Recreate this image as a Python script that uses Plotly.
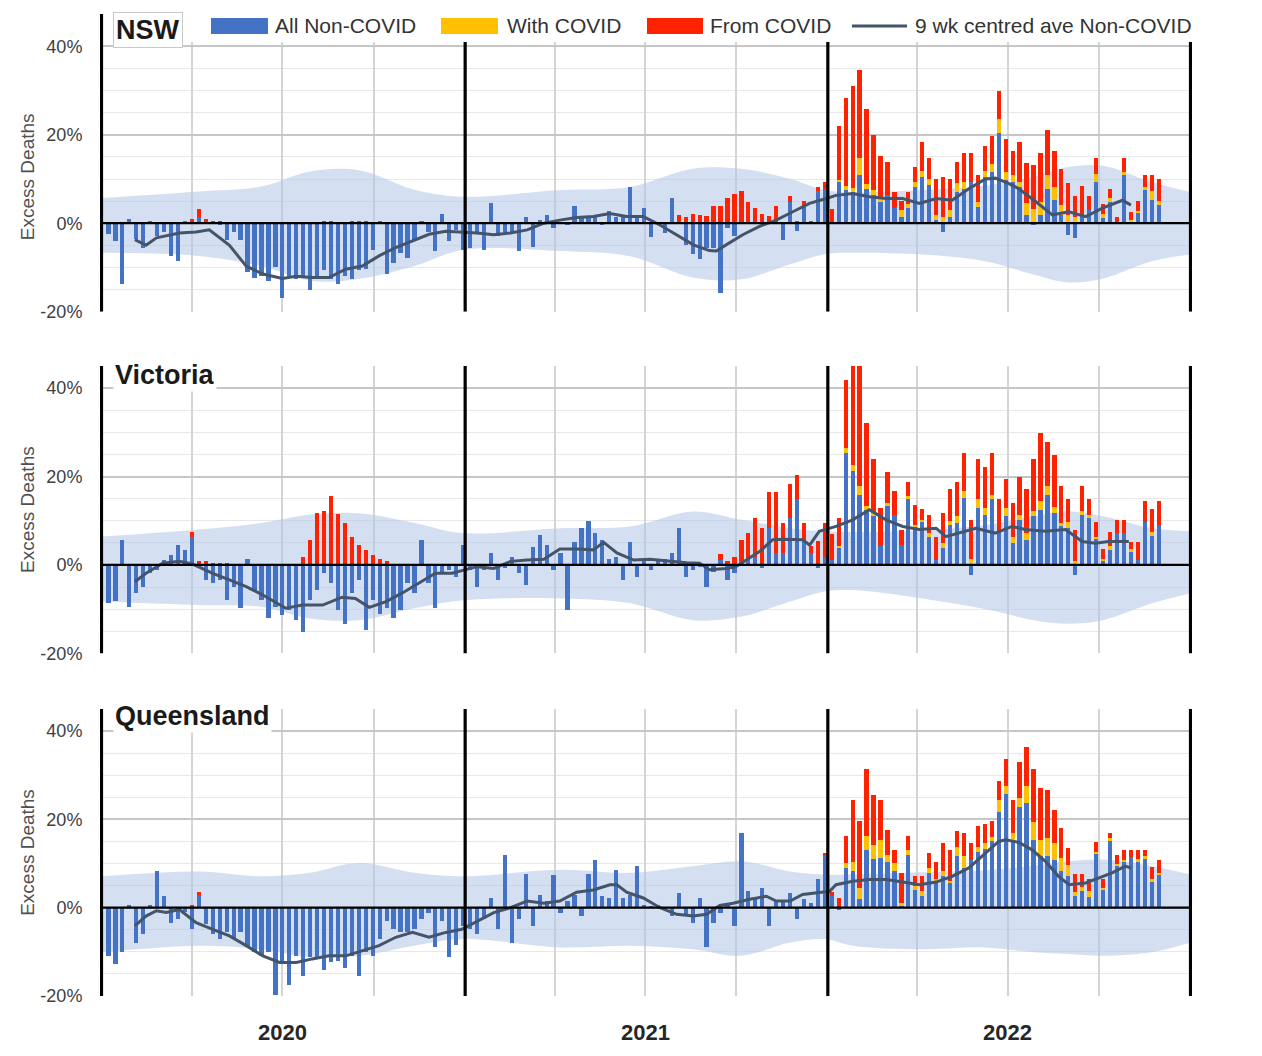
import plotly.graph_objects as go

# ---------------- DATA (percent excess deaths, weekly) ----------------
N_WEEKS = 152
week_idx = list(range(N_WEEKS))
yellow_start = 104  # "With COVID" only reported from 2022

# ---- NSW ----
nsw_nonc = ([-2.5, -4, -13.8, 1, -3.5, -5.5, 0.5, -3, -2, -7.4, -8.5, 0.5, 0, 1.5, 0, 0, -0.5, -3.7, -2, -3.7,
             -11, -12.5, -12, -13, -10, -17, -12, -12.6, -12, -15, -12.6, -10.5, -12.6, -13.8, -12, -12.6, -10.5,
             -10.4, -6, 0.4, -11.5, -9, -6.7, -7.8, -3.7, 0.4, -2, -6.3, 2, -4, -1.5, -6]
            + [-5.5, -2, -6, 4.5, -3, -2, -2.2, -6.3, 1.3, -5.4, 0.7, 1.9, -1.1, 0, -0.5, 4, 1.5, 1.5, 1.5, -0.5,
               2.8, 1.5, 1.5, 8.2, 1.5, 3.4, -3.2, 0, -2.2, 5.6, 0, -4.9, -7, -8.2, -5.6, -5.6, -15.7, -1.1, -3,
               0, 0, 0, 0, 0, 0, -3.9, 4.7, -1.7, 4, 0, 7.2, 7.8]
            + [0, 9.3, 7.5, 7, 10.8, 7.8, 6.3, 4.9, 6.3, 3.4, 1.5, 3.4, 8.2, 10.4, 8.6, 0.7, -1.9, 1.5, 7.1, 7.8,
               9.3, 3.7, 10.4, 11.6, 20.5, 9.7, 9.3, 8.2, 1.9, -0.5, 1.9, 7.8, 5.2, 1.9, -2.6, -3.4, 1.9, 3, 9.3,
               1.1, 4.9, 0, 11, 0.2, 2.4, 7.5, 5.2, 4.1])
nsw_with = [0, 0.5, 1, 1, 4, 1.1, 1.2, 1.1, 0, 0, 1.5, 1, 1.1, 1.5, 1.3, 1.1, 1.5, 1.5, 1.9, 1.5, 0, 1.1, 1.5,
            1.9, 3, 1.9, 1.5, 1.1, 2.6, 3.3, 3, 3, 3, 2.2, 1.9, 1.5, 0, 0, 1.9, 1.1, 0.8, 0, 0.6, 0.6, 0.4, 0.8,
            2, 1]
nsw_from = ([0, 0, 0, 0, 0, 0, 0, 0, 0, 0, 0, 0, 1.0, 1.7, 1.0, 0.5, 0.5, 0, 0, 0, 0, 0, 0, 0, 0, 0, 0, 0, 0, 0,
             0.3, 0.5, 0.5, 0, 0, 0.5, 0.5, 0.5, 0, 0, 0, 0, 0, 0, 0, 0, 0, 0, 0, 0, 0, 0]
            + [0, 0, 0, 0, 0, 0, 0, 0, 0, 0, 0, 0, 0, 0, 0, 0, 0, 0, 0, 0, 0, 0, 0, 0, 0, 0, 0, 0, 0, 0,
               1.9, 1.3, 2.2, 1.9, 1.7, 4, 4, 5.6, 6.6, 7.2, 4.9, 3.5, 2.2, 1.7, 4, 0, 1.5, 0.5, 1.1, 0.5, 1, 1.5]
            + [3.3, 12.2, 19.9, 23, 19.9, 17, 12.5, 9.3, 7.5, 3.6, 2, 2.6, 3.4, 6.5, 4.8, 8.1, 8.9, 7, 4.8, 6.6,
               6.6, 6.2, 5.6, 6.3, 6.4, 7.4, 5.6, 9.1, 9.1, 9.8, 11, 10.3, 8.2, 8.1, 7.1, 4.7, 6.5, 3.2, 3.6, 2.2,
               2.1, 1.3, 3.2, 1.7, 2.3, 2.7, 3.8, 4.8])
nsw_ma_wk = [3.8, 5.4, 6.9, 10.2, 12.6, 14.5, 17.4, 19.8, 22.2, 25, 27, 29.3, 31.7, 34.1, 36.5, 38.9, 41.3, 43.7,
             46.1, 48.5, 50.8, 53, 55.4, 57.8, 60.2, 62.6, 64.9, 67.3, 69.7, 72.1, 74.5, 76.9, 79.3, 81.7, 84.1,
             86.4, 87.4, 88.8, 91.2, 93.6, 96, 98.4, 100.8, 103.2, 104.6, 107, 109.4, 111.8, 114.2, 116.6, 119,
             121.3, 123.7, 126.1, 127.5, 129.4, 130.9, 133.3, 135.7, 138.1, 140.5, 142.9, 145.8, 147]
nsw_ma = [-3.7, -5, -3.3, -2.2, -2, -1.5, -5, -9.7, -11.5, -12.5, -12, -12.3, -12.3, -10.4, -9.7, -7.4, -5.5, -4,
          -2.5, -1.8, -2, -2.2, -2.6, -2.2, -1.5, 0, 0.7, 1.3, 1.5, 2.2, 1.5, 1.5, -0.4, -2.6, -4.9, -6.2, -6.3,
          -4.9, -2.6, -0.7, 0.7, 2.6, 4.5, 5.6, 6.3, 6.7, 6, 5.6, 5.6, 4.5, 5.6, 5.2, 7.8, 10, 10.2, 9, 7.8, 4.9,
          1.9, 2.6, 1.5, 3.4, 5.2, 4.1]

# ---- Victoria ----
vic_nonc = ([-8.7, -8.1, 5.7, -9.5, -6.4, -4.9, -1.9, -1.1, 1.1, 2.3, 4.5, 3.4, 6.4, 0, -3.4, -4.2, -3.4, -8, -4.9,
             -9.8, 1.3, -5.7, -8, -12.1, -9.5, -11.4, -10.2, -12.5, -15.2, -8, -5.7, -1.9, -4.2, -10.2, -13.3, -6.4,
             -3.4, -14.8, -8, -11, -9.8, -12.1, -10.2, -4.2, -6.4, 5.7, -4.2, -9.8, -1.5, -1.1, -2.7, 4.5]
            + [-1.1, -4.9, -1.1, 2.8, -3.4, -0.8, 1.9, -1.9, -4.5, 4, 6.8, 4.5, -1.1, 2.8, -10.2, 5.1, 8.3, 10, 7.2,
               5.7, 1.3, 1.9, -3.4, 5.1, -2.8, 1.3, -1.1, 1.3, 1.3, 2.8, 8.3, -2.8, -1.1, -0.4, -4.9, -1.5, 1.1,
               -3.4, -1.9, 0.8, 1.1, 1.9, -0.8, 8.3, 2.7, 2.7, 10.6, 14.9, 5.7, 2.7, -0.8, 1.9]
            + [1.1, 3.8, 25.4, 21.2, 15.9, 12.5, 11, 4.2, 13.3, 11.4, 4.5, 14.9, 8.7, 9.8, 6.4, 1.1, 3.8, 9.1, 9.5,
               15.2, -2.3, 12.9, 11.4, 14.8, 7.2, 11, 4.9, 10.2, 5.7, 11, 12.5, 15.9, 11.7, 8.7, 8.3, -2.3, 11.4,
               10.6, 5.8, 0.8, 3.4, 7.2, 7.2, 3, 1.1, 9.8, 6.6, 9.1])
vic_with = [0, 0.5, 1.1, 1.5, 1.9, 0.8, 0.8, 0, 0.8, 0, 0, 0.8, 0.4, 0.4, 0.8, 0, 1.1, 0.8, 1.5, 1.5, 1.3, 1.9,
            1.5, 1.1, 0, 1.9, 1.5, 1, 1.5, 1.1, 1.9, 1.9, 1.5, 0.8, 1.3, 0.8, 0.8, 0.8, 0.6, 0.5, 0.8, 0, 0, 0.5,
            0, 0, 0.8, 0]
vic_from = ([0, 0, 0, 0, 0, 0, 0, 0, 0, 0, 0, 0, 1.0, 0.8, 0.8, 0.5, 0.5, 0.4, 0, 0, 0, 0, 0, 0, 0, 0, 0, 0,
             1.9, 5.7, 11.7, 12.3, 15.5, 11.6, 9.5, 6.3, 4.5, 3.4, 2.3, 1.3, 0.8, 0, 0, 0, 0, 0, 0, 0, 0, 0, 0, 0]
            + [0, 0, 0, 0, 0, 0, 0, 0, 0, 0, 0, 0, 0, 0, 0, 0, 0, 0, 0, 0, 0, 0, 0, 0, 0, 0, 0, 0, 0, 0, 0, 0, 0,
               0, 0, 0, 1.3, 0.8, 1.9, 4.9, 6.2, 8.6, 8.3, 8.1, 13.7, 6.8, 7.7, 5.5, 3.8, 1.5, 5.3, 7.6]
            + [6, 6.3, 15.4, 23, 28, 18.7, 12.1, 8.7, 7, 5.3, 3.5, 3.1, 4.4, 2.5, 4, 5.3, 6.8, 7.3, 7.8, 8.7, 8.8,
               9.1, 9.2, 9.5, 7.7, 6.6, 7.5, 8.7, 10, 11.8, 15.4, 9.9, 11.6, 8.3, 5.3, 7.2, 5.6, 3.5, 3.2, 2.3,
               3.2, 2.9, 2.9, 1.6, 4, 4.6, 5.3, 5.3])
vic_ma_wk = [3.8, 5.4, 7.8, 10.2, 12.1, 15, 17.4, 19.8, 22.2, 25.5, 27.9, 30.8, 33.6, 35.5, 37.5, 39.9, 42.2, 44.6,
             47, 49.4, 51.3, 53, 55.4, 57.8, 60.2, 62.6, 64.9, 67.3, 69.7, 71.2, 73.1, 75.5, 77.9, 80.7, 83.1, 85,
             86.4, 88.8, 90.2, 91.7, 93.6, 95.5, 97.4, 99.8, 100.8, 102.2, 103.7, 104.6, 107, 109.4, 111.8, 114.2,
             116.6, 119, 120.4, 122.3, 124.7, 127.5, 129.9, 131.8, 134.7, 137.6, 140, 141.9, 143.8, 146.7]
vic_ma = [-3.8, -1.9, 0.4, 0.8, 0.2, -1.9, -3.4, -4.9, -6.8, -9.8, -9.1, -9.1, -7.3, -7.6, -9.6, -8.3, -6.4, -4.2,
          -1.9, -1.9, -1.1, -0.4, -0.8, 0.8, 1.1, 1.3, 3.6, 3.6, 3.4, 5.1, 2.7, 1.1, 1.3, 0.9, 0.5, 0.4, -1.1, -0.8,
          -0.4, 1.1, 3, 5.7, 5.8, 5.7, 4.5, 7.6, 8.3, 8.7, 10.2, 12.5, 10.2, 8.7, 8, 8.3, 6.4, 7.2, 8.3, 7.2, 8.7,
          8, 7.6, 8, 5.3, 4.9, 5.3, 5.3]

# ---- Queensland ----
qld_nonc = ([-10.9, -12.7, -10.1, 0.6, -7.9, -6, 0.6, 8.2, 2.7, -3.4, -2.6, -1, -4.9, 2.8, -3.7, -6, -7.1, -5.6,
             -7.1, -5.6, -8.6, -10.1, -10.9, -10.1, -19.8, -12.4, -17.4, -10.9, -15.4, -11.2, -11.6, -14.2, -12.4,
             -12, -13.7, -10.9, -15.4, -10.1, -11, -7, -3, -4.9, -5.6, -5.6, -4.9, -2.6, -1.1, -9, -3, -11.1, -8.5,
             -4.1]
            + [-4.9, -6, -2.6, 2.2, -4.9, 12, -7.9, -2.5, 7.7, -4.1, 2.8, 1.5, 7.3, -1.1, 1.5, 2.8, -1.9, 7.7, 10.9,
               2.6, 2.2, 8.6, 2.2, 2.8, 9.4, 0.7, 0.3, 0.5, -0.5, -1.9, 3.4, -1.9, -3.5, 2.2, -9, -3.5, -1.1, 0.5,
               -4.1, 16.9, 3.7, 2.2, 4.5, -4.1, 1.5, 1.5, 3.4, -2.5, 1.9, 1.1, 6.5, 12]
            + [2.6, -0.5, 9, 8.2, 1.9, 13.1, 11, 11.2, 10.3, 8.2, 0.4, 12, 4.1, 2.6, 7.9, 5.6, 7.1, 5.6, 11.6, 9,
               10.9, 12.7, 13.3, 15, 21.7, 25.8, 15.4, 22.8, 23.6, 15.4, 11.6, 11.6, 10.9, 8.2, 7.1, 2.6, 3.7, 2.5,
               12.2, 4.1, 15, 9.4, 10.3, 11.5, 10.3, 11, 6, 7.3])
qld_with = [0, 0, 1.1, 2.2, 2.6, 3.1, 3.2, 4.1, 1.7, 1.9, 0.7, 1.1, 0.8, 1.1, 1.1, 0.8, 1.1, 0.5, 2.2, 2.6, 0, 1.1,
            1.3, 1.1, 2.6, 1.7, 1.5, 2.1, 3.9, 4.1, 3.7, 4.1, 3.7, 3, 2.6, 0.9, 1.1, 1.3, 0.5, 0.4, 0.7, 0.6, 0.6,
            0, 0.7, 0.6, 0.4, 0.6]
qld_from = ([0, 0, 0, 0, 0, 0, 0, 0, 0, 0, 0, 0, 0.6, 0.7, 0, 0, 0, 0, 0, 0, 0, 0, 0, 0, 0, 0, 0, 0, 0, 0, 0, 0, 0,
             0, 0, 0, 0, 0, 0, 0, 0, 0, 0, 0, 0, 0, 0, 0, 0, 0, 0, 0]
            + [0, 0, 0, 0, 0, 0, 0, 0, 0, 0, 0, 0, 0, 0, 0, 0, 0, 0, 0, 0, 0, 0, 0, 0, 0, 0, 0, 0, 0, 0, 0, 0, 0,
               0, 0, 0, 0, 0, 0, 0, 0, 0, 0, 0, 0, 0, 0, 0, 0, 0, 0, 0.3]
            + [1.0, 2.2, 6.2, 14.1, 15.2, 15.3, 11.3, 9.2, 5.5, 3, 6.8, 3.2, 2.2, 3.4, 3.5, 3.9, 6.4, 7, 3.6, 5.3,
               3.7, 4.6, 4.4, 3.6, 4.4, 6.1, 7.6, 8.1, 8.8, 12, 11.7, 10.9, 7.6, 6.8, 3.9, 4.2, 2.9, 2.7, 2.1, 2,
               1.2, 2, 2.1, 1.5, 2, 1.4, 2.8, 3])
qld_ma_wk = [3.8, 5.4, 6.9, 8.3, 10.2, 12.6, 15, 17.4, 19.8, 22.2, 24.6, 27, 29.3, 31.7, 34.1, 36.5, 38.9, 41.3,
             43.7, 46.1, 48.5, 50.8, 53, 55.4, 57.8, 60.2, 62.6, 64.9, 67.3, 69.7, 72.1, 73.1, 74.5, 76.9, 79.3,
             81.7, 84.1, 86, 87.9, 89.8, 92.2, 94.6, 96, 98, 99.8, 102.2, 103.7, 104.6, 107, 109.4, 111.8, 114.2,
             116.6, 119, 121.3, 123.7, 126.1, 128, 129, 130.9, 132.8, 134.7, 136.6, 138.1, 140.5, 142.9, 144.3,
             146.2, 147]
qld_ma = [-4.1, -1.9, -0.7, -1.1, -0.4, -3.4, -4.9, -6.4, -8.6, -10.9, -12.4, -12.4, -11.6, -10.9, -10.9, -9.7,
          -8.6, -6.7, -5.6, -6.7, -5.6, -4.9, -3, -1.1, 0, 1.5, 1, 1.5, 3.5, 4, 5.2, 5.2, 3.5, 2.2, 0, -1.5, -1.9,
          -1.5, 0.5, 1, 1.9, 2.6, 1.5, 1.5, 3, 3.5, 3.7, 5.2, 6, 6.4, 6.4, 5.8, 5.2, 5.8, 7.1, 9, 12.4, 15, 15.4,
          14.8, 13.1, 10.5, 7.1, 5.2, 5.6, 7.1, 7.9, 9.4, 9]

# ---- expected range band (week number, upper / lower %) ----
band_wk = [-1, 13, 22, 29, 36, 44, 51, 65, 75, 84, 91, 98, 103, 107, 117, 126, 133, 138, 143, 150, 156]
nsw_up = [5.7, 7.2, 8.3, 11.7, 12, 7.6, 6, 7.5, 8.2, 12.3, 12.3, 10, 7.5, 7, 7.5, 8.5, 10.5, 12.7, 13, 9.3, 7]
nsw_lo = [-6.7, -7.4, -9.7, -13, -12.6, -9.7, -6, -6.3, -7.5, -12.3, -12.7, -9.3, -7, -6.7, -7.1, -8.6, -11.6,
          -13.4, -12.5, -8.6, -7.1]
vic_up = [6.4, 8, 9.5, 11.4, 11.7, 9.5, 7.2, 8.3, 8.7, 12.1, 10.2, 8.3, 7.6, 7.5, 7.8, 9, 11, 12.1, 11, 8.3, 7.6]
vic_lo = [-8.3, -9.1, -9.5, -12.1, -12.5, -9.8, -8, -7.6, -8.7, -12.5, -11.7, -8.3, -6, -5.7, -7.6, -10, -12.5,
          -13.3, -12.5, -8.7, -6.4]
qld_up = [7.1, 8.2, 7.1, 7.9, 10.1, 7.9, 7.1, 8.6, 7.9, 9.4, 10.5, 8.2, 7.5, 7.5, 8, 8.5, 9.5, 10.5, 10.9, 9.4, 7.5]
qld_lo = [-10.1, -8.6, -9.4, -11.2, -10.9, -8.6, -7.1, -9, -8.6, -9.4, -10.9, -7.9, -7.1, -8.6, -9.4, -9, -10.1,
          -10.5, -10.9, -10.1, -7.9]

panel_names = ["NSW", "Victoria", "Queensland"]
year_labels = ["2020", "2021", "2022"]
year_mid_day = [182, 547, 912]
year_edge_day = [0, 366, 731, 1096]
quarter_day = [0, 91, 182, 274, 366, 456, 547, 639, 731, 821, 912, 1004, 1096]
y_tick_vals = [-20, 0, 20, 40]
y_tick_text = ["-20%", "0%", "20%", "40%"]
legend_names = ["All Non-COVID", "With COVID", "From COVID", "9 wk centred ave Non-COVID"]

# ---------------- STYLE / LAYOUT ----------------
BLUE, YELLOW, RED, LINEC = "#4472C4", "#FFC000", "#FF2200", "#44546A"
BAND = "rgba(176,196,230,0.55)"
FONT = "Liberation Sans, Arial, sans-serif"
PAGE_OFF = 8                      # browser body margin
W, H = 1262 - PAGE_OFF, 1056 - PAGE_OFF
# page-pixel geometry of the plot area
P_LEFT, P_RIGHT, P_TOP, P_BOT = 100, 1192, 42, 996
ML = P_LEFT - PAGE_OFF
MR = W - (P_RIGHT - PAGE_OFF)
MT = P_TOP - PAGE_OFF
MB = H - (P_BOT - PAGE_OFF)
PLOT_H = P_BOT - P_TOP
PLOT_W = P_RIGHT - P_LEFT
PX_PER_PCT = 4.42
panel_top_px = [42, 366, 709]
panel_range = [(-20, 41), (-20, 45), (-20, 45)]


def fy(py):
    return 1 - (py - P_TOP) / PLOT_H


def fx(px):
    return (px - P_LEFT) / PLOT_W


def day(w):
    return 7 + 7 * w


bar_x = [day(w) for w in week_idx]
yellow_x = bar_x[yellow_start:]
band_x = [min(max(day(w), 0), 1096) for w in band_wk]

panels = [
    (nsw_nonc, nsw_with, nsw_from, nsw_ma_wk, nsw_ma, nsw_up, nsw_lo),
    (vic_nonc, vic_with, vic_from, vic_ma_wk, vic_ma, vic_up, vic_lo),
    (qld_nonc, qld_with, qld_from, qld_ma_wk, qld_ma, qld_up, qld_lo),
]

fig = go.Figure()
layout = {}
shapes = []
annotations = []
XR = [-1.5, 1097.5]

for p, (nonc, withc, fromc, ma_wk, ma_v, up, lo) in enumerate(panels, start=1):
    xa = "x" if p == 1 else f"x{p}"
    xk = "xaxis" if p == 1 else f"xaxis{p}"
    nb, no = 2 * p - 1, 2 * p
    yb = "y" if nb == 1 else f"y{nb}"
    yo = f"y{no}"
    ybk = "yaxis" if nb == 1 else f"yaxis{nb}"
    yok = f"yaxis{no}"
    lo_r, hi_r = panel_range[p - 1]
    top_px = panel_top_px[p - 1]
    bot_px = top_px + (hi_r - lo_r) * PX_PER_PCT
    dom = [max(0, fy(bot_px)), min(1, fy(top_px))]

    # band on base axes (drawn underneath)
    fig.add_trace(go.Scatter(x=band_x, y=lo, mode="lines", line=dict(width=0, shape="spline"),
                             xaxis=xa, yaxis=yb, showlegend=False, hoverinfo="skip"))
    fig.add_trace(go.Scatter(x=band_x, y=up, mode="lines", line=dict(width=0, shape="spline"),
                             fill="tonexty", fillcolor=BAND, xaxis=xa, yaxis=yb,
                             showlegend=False, hoverinfo="skip"))
    # bars on overlay axes
    fig.add_trace(go.Bar(x=bar_x, y=nonc, width=4.3, marker=dict(color=BLUE, line=dict(width=0)),
                         xaxis=xa, yaxis=yo, showlegend=False, name=legend_names[0]))
    fig.add_trace(go.Bar(x=yellow_x, y=withc, width=4.3, marker=dict(color=YELLOW, line=dict(width=0)),
                         xaxis=xa, yaxis=yo, showlegend=False, name=legend_names[1]))
    fig.add_trace(go.Bar(x=bar_x, y=fromc, width=4.3, marker=dict(color=RED, line=dict(width=0)),
                         xaxis=xa, yaxis=yo, showlegend=False, name=legend_names[2]))
    fig.add_trace(go.Scatter(x=[day(w) for w in ma_wk], y=ma_v, mode="lines",
                             line=dict(color=LINEC, width=3), xaxis=xa, yaxis=yo,
                             showlegend=False, name=legend_names[3]))

    layout[xk] = dict(domain=[0, 1], anchor=yb, range=XR, tickvals=quarter_day, showticklabels=False,
                      showgrid=True, gridcolor="#D4D4D4", gridwidth=1.5, zeroline=False, ticks="",
                      showline=False, fixedrange=True)
    layout[ybk] = dict(domain=dom, anchor=xa, range=[lo_r, hi_r], tickvals=y_tick_vals, ticktext=y_tick_text,
                       showgrid=True, gridcolor="#C6C6C6", gridwidth=1.5, zeroline=False,
                       minor=dict(dtick=5, tick0=0, showgrid=True, gridcolor="#E8E8E8", gridwidth=1),
                       ticks="outside", ticklen=13, tickcolor="rgba(0,0,0,0)",
                       tickfont=dict(family=FONT, size=18, color="#404040"),
                       title=dict(text="Excess Deaths", font=dict(family=FONT, size=19, color="#505050"),
                                  standoff=0),
                       showline=False, fixedrange=True)
    layout[yok] = dict(overlaying=yb, anchor=xa, range=[lo_r, hi_r], visible=False, fixedrange=True)

    # zero line and year separators on top
    shapes.append(dict(type="line", xref=f"{xa} domain", x0=0, x1=1, yref=yb, y0=0, y1=0,
                       line=dict(color="black", width=2.2), layer="above"))
    for d in year_edge_day:
        shapes.append(dict(type="line", xref=xa, x0=d, x1=d, yref=f"{yb} domain", y0=0, y1=1,
                           line=dict(color="black", width=3.2), layer="above"))

    # panel title
    title_py = [30, 375, 716][p - 1]
    ann = dict(text=f"<b>{panel_names[p - 1]}</b>", xref="paper", yref="paper", x=fx(113), y=fy(title_py),
               xanchor="left", yanchor="middle", showarrow=False,
               font=dict(family=FONT, size=27, color="#1a1a1a"), bgcolor="white")
    if p == 1:
        ann.update(bordercolor="#C8C8C8", borderwidth=1, borderpad=2)
    annotations.append(ann)

# NSW left axis extends up to the legend row
shapes.append(dict(type="line", xref="x", x0=0, x1=0, yref="paper", y0=1, y1=fy(14),
                   line=dict(color="black", width=3.2), layer="above"))

# year labels
for lab, d in zip(year_labels, year_mid_day):
    annotations.append(dict(text=f"<b>{lab}</b>", xref="x3", yref="paper", x=d, y=fy(1032),
                            xanchor="center", yanchor="middle", showarrow=False,
                            font=dict(family=FONT, size=22, color="#262626")))

# manual legend in top row
leg_y = fy(26)
leg_items = [(211, 268, 273, BLUE, "rect"), (441, 498, 505, YELLOW, "rect"),
             (647, 703, 708, RED, "rect"), (852, 907, 913, LINEC, "line")]
for (x0, x1, tx, col, kind), name in zip(leg_items, legend_names):
    if kind == "rect":
        shapes.append(dict(type="rect", xref="paper", yref="paper", x0=fx(x0), x1=fx(x1),
                           y0=fy(34), y1=fy(18), fillcolor=col, line=dict(width=0), layer="above"))
    else:
        shapes.append(dict(type="line", xref="paper", yref="paper", x0=fx(x0), x1=fx(x1),
                           y0=leg_y, y1=leg_y, line=dict(color=col, width=3), layer="above"))
    annotations.append(dict(text=name, xref="paper", yref="paper", x=fx(tx), y=leg_y, xanchor="left",
                            yanchor="middle", showarrow=False,
                            font=dict(family=FONT, size=21, color="#333333")))

fig.update_layout(
    width=W, height=H, margin=dict(l=ML, r=MR, t=MT, b=MB, autoexpand=False),
    paper_bgcolor="white", plot_bgcolor="white", barmode="relative", bargap=0,
    showlegend=False, shapes=shapes, annotations=annotations, font=dict(family=FONT),
    **layout,
)

fig.write_html("out.html")
